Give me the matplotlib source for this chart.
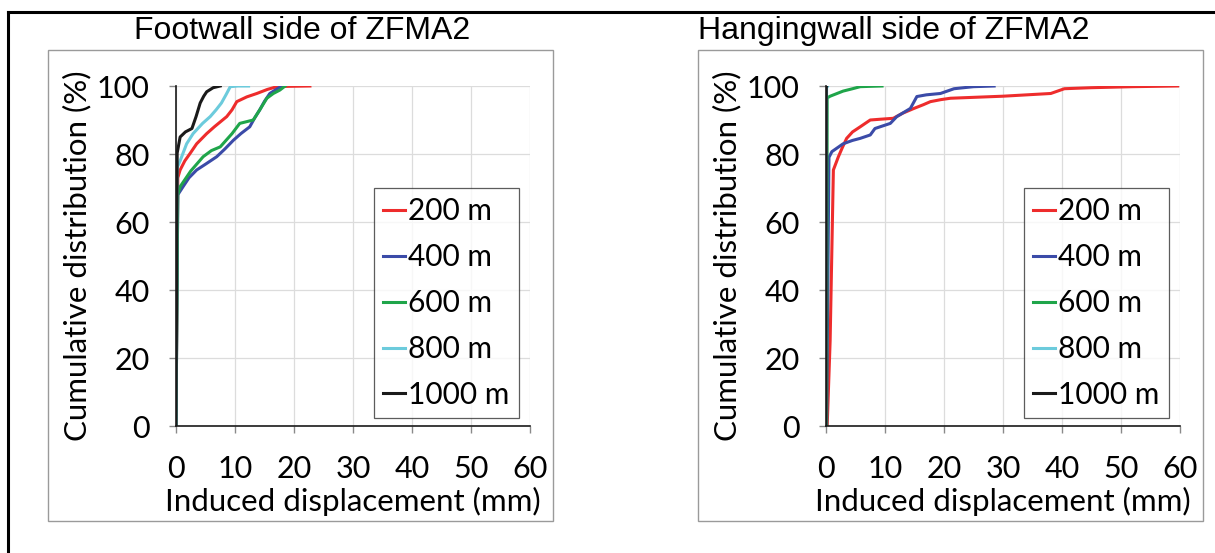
import matplotlib
matplotlib.use("Agg")
import matplotlib.pyplot as plt
from matplotlib.patches import Rectangle
from matplotlib.lines import Line2D

plt.rcParams['font.family'] = ['Lato', 'DejaVu Sans']

depths = ['200 m', '400 m', '600 m', '800 m', '1000 m']
colors = ['#ee2c2c', '#3b4ba8', '#1fa54a', '#6ccbdc', '#1a1a1a']

# footwall side: induced displacement (mm) vs cumulative distribution (%)
fw_200_x = [0.0, 0.3, 0.7, 1.5, 2.4, 3.5, 5.2, 6.5, 8.6, 9.5, 10.3, 12.0, 13.7, 15.5, 17.1, 19.0, 22.7]
fw_200_y = [0, 73, 75.3, 78, 80.2, 83, 86, 88, 91, 93, 95.4, 96.8, 97.8, 99, 99.8, 99.9, 100]
fw_400_x = [0.0, 0.3, 1.2, 2.2, 3.5, 5.0, 6.9, 8.3, 9.7, 11.0, 12.5, 13.3, 14.2, 15.0, 15.9, 17.0, 17.9]
fw_400_y = [0, 68, 70.4, 73, 75.3, 77, 79.2, 81.5, 84, 86, 88, 90.5, 93, 95.5, 97.8, 99, 100]
fw_600_x = [0.0, 0.3, 0.7, 2.5, 4.6, 6.0, 7.5, 9.5, 10.8, 13.1, 14.2, 15.4, 16.5, 17.6, 18.5]
fw_600_y = [0, 68, 70.4, 75, 79.2, 81, 82.1, 86, 89, 90, 93, 96.4, 97.8, 98.8, 100]
fw_800_x = [0.0, 0.2, 0.7, 1.8, 2.9, 4.5, 5.8, 6.8, 7.7, 8.5, 9.2, 10.5, 12.3]
fw_800_y = [0, 76, 78, 83, 86, 89, 91, 93, 95, 97.5, 99.8, 100, 100]
fw_1000_x = [0.0, 0.2, 0.7, 1.6, 2.7, 3.4, 4.1, 4.7, 5.2, 6.3, 7.5]
fw_1000_y = [0, 80.3, 85, 86.5, 87.5, 91, 95, 97, 98.3, 99.5, 100]

# hangingwall side
hw_200_x = [0.2, 0.7, 1.25, 2.1, 2.8, 3.5, 4.5, 5.8, 7.5, 9.0, 11.4, 13.0, 14.9, 16.5, 17.7, 19.5, 21.1, 30.0, 38.1, 40.4, 45.0, 52.0, 59.6]
hw_200_y = [0, 25, 75.3, 79.2, 82, 84.6, 86.5, 88, 90, 90.2, 90.5, 92, 93.4, 94.5, 95.4, 96, 96.4, 97, 97.8, 99.2, 99.5, 99.8, 100]
hw_400_x = [0.1, 0.5, 1.0, 2.9, 4.5, 5.8, 7.5, 8.3, 10.9, 12.0, 14.3, 15.4, 17.0, 19.4, 21.7, 25.0, 28.5]
hw_400_y = [0, 79, 80.7, 83, 84, 84.6, 85.6, 87.5, 89, 91, 93.4, 96.9, 97.4, 97.8, 99.2, 99.8, 100]
hw_600_x = [0.1, 0.2, 0.7, 2.9, 4.5, 5.8, 7.5, 9.5]
hw_600_y = [0, 96.5, 97, 98.5, 99.2, 99.8, 99.9, 100]
hw_800_x = [0.0, 0.1, 0.3]
hw_800_y = [0, 99.5, 100]
hw_1000_x = [0.0, 0.05, 0.1]
hw_1000_y = [0, 99.9, 100]

fw_series = [(fw_200_x, fw_200_y), (fw_400_x, fw_400_y), (fw_600_x, fw_600_y),
             (fw_800_x, fw_800_y), (fw_1000_x, fw_1000_y)]
hw_series = [(hw_200_x, hw_200_y), (hw_400_x, hw_400_y), (hw_600_x, hw_600_y),
             (hw_800_x, hw_800_y), (hw_1000_x, hw_1000_y)]

W, H = 1215, 553
fig = plt.figure(figsize=(W / 100, H / 100), dpi=100)

# outer border and the two panel frames
fig.add_artist(Line2D([8 / W, 8 / W], [0, 1 - 12 / H], color='black', lw=2.2))
fig.add_artist(Line2D([8 / W, 1], [1 - 12 / H, 1 - 12 / H], color='black', lw=2.2))
for x0, x1 in [(48, 553), (698, 1203)]:
    fig.add_artist(Rectangle((x0 / W, 1 - 521 / H), (x1 - x0) / W, (521 - 50) / H,
                             transform=fig.transFigure, fill=False,
                             edgecolor='#9a9a9a', lw=1.0))


def make_panel(left_px, series, title, title_x):
    ax = fig.add_axes([left_px / W, 1 - 426 / H, 354 / W, 340 / H])
    for (xs, ys), c, lab in zip(series, colors, depths):
        ax.plot(xs, ys, color=c, lw=2.2, label=lab)
    ax.set_xlim(0, 60)
    ax.set_ylim(0, 100)
    ax.set_xticks(range(0, 61, 10))
    ax.set_yticks(range(0, 101, 20))
    ax.grid(True, color='#dcdcdc', lw=0.9)
    ax.set_axisbelow(True)
    for s in ['top', 'right']:
        ax.spines[s].set_visible(False)
    for s in ['left', 'bottom']:
        ax.spines[s].set_color('#1a1a1a')
        ax.spines[s].set_linewidth(1.2)
    ax.tick_params(axis='both', which='major', labelsize=22, colors='#8a8a8a',
                   labelcolor='black', length=5, width=1.0)
    ax.tick_params(axis='y', pad=14)
    ax.tick_params(axis='x', pad=16)
    ax.set_xlabel('Induced displacement (mm)', fontsize=22.5)
    ax.set_ylabel('Cumulative distribution (%)', fontsize=22.5)
    ax.xaxis.set_label_coords(0.5, -0.18)
    ax.yaxis.set_label_coords(-0.24, 0.5)
    leg = ax.legend(loc='lower right', bbox_to_anchor=(0.968, 0.024), fontsize=21.5,
                    frameon=True, fancybox=False, handlelength=0.75,
                    handletextpad=0.1, labelspacing=0.6, borderpad=0.3,
                    borderaxespad=0)
    leg.get_frame().set_edgecolor('#333333')
    leg.get_frame().set_linewidth(0.9)
    fig.text(title_x / W, 1 - 31 / H, title, fontsize=23, ha='center', va='center',
             family=['Liberation Sans Narrow', 'Liberation Sans', 'DejaVu Sans'])
    return ax


make_panel(176, fw_series, 'Footwall side of ZFMA2', 302)
make_panel(826, hw_series, 'Hangingwall side of ZFMA2', 894)

fig.savefig('out.png', dpi=100)
